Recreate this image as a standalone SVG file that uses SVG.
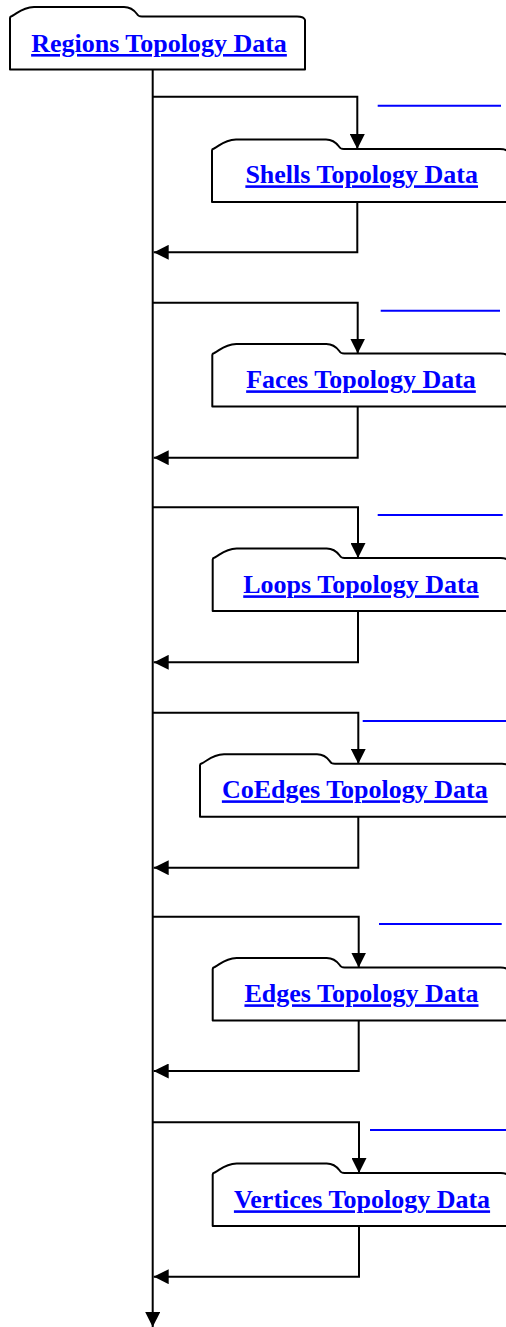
<svg xmlns="http://www.w3.org/2000/svg" width="506" height="1327" viewBox="0 0 506 1327">
<style>
.node path{fill:#fff;stroke:#000;stroke-width:2;stroke-linejoin:round}
.node text{font-family:"Liberation Serif","Times New Roman",serif;font-weight:bold;font-size:26px;fill:#0000ff;text-decoration:underline;text-anchor:middle}
.conn path{fill:none;stroke:#000;stroke-width:2}
.link line{stroke:#0000ff;stroke-width:2}
</style>
<defs>
<marker id="arr" markerUnits="userSpaceOnUse" markerWidth="15" markerHeight="15" refX="15" refY="7.5" orient="auto">
<path d="M0,0 L15,7.5 L0,15 z" fill="#000"/>
</marker>
</defs>
<rect width="506" height="1327" fill="#fff"/>
<g id="connectors" class="conn">
<path d="M152.7,69.5 V1327" marker-end="url(#arr)"/>
<path d="M152.7,96.7 H357.3 V149" marker-end="url(#arr)"/>
<path d="M357.3,202 V252.3 H153.7" marker-end="url(#arr)"/>
<path d="M152.7,302.7 H357.7 V353.5" marker-end="url(#arr)"/>
<path d="M357.7,406.5 V457.7 H153.7" marker-end="url(#arr)"/>
<path d="M152.7,507.3 H358 V558" marker-end="url(#arr)"/>
<path d="M358,611 V662.3 H153.7" marker-end="url(#arr)"/>
<path d="M152.7,712.7 H358.3 V763.8" marker-end="url(#arr)"/>
<path d="M358.3,816.8 V867.7 H153.7" marker-end="url(#arr)"/>
<path d="M152.7,916.7 H358.7 V967.5" marker-end="url(#arr)"/>
<path d="M358.7,1020.5 V1071 H153.7" marker-end="url(#arr)"/>
<path d="M152.7,1122.3 H359 V1173" marker-end="url(#arr)"/>
<path d="M359,1226 V1276.7 H153.7" marker-end="url(#arr)"/>
</g>
<g id="links" class="link">
<line x1="377.7" y1="105.7" x2="501" y2="105.7"/>
<line x1="380.7" y1="310.7" x2="500" y2="310.7"/>
<line x1="377.7" y1="515" x2="502.7" y2="515"/>
<line x1="362.7" y1="721" x2="506" y2="721"/>
<line x1="379" y1="924" x2="501.7" y2="924"/>
<line x1="370" y1="1130" x2="506" y2="1130"/>
</g>
<g id="regions" class="node" transform="translate(10,7)">
<path d="M0,62.5 V11 Q0,9.5 2,9 C8,6 12,0.5 24,0 L114,0 C120,0 124,3 127,7 Q128,9.5 132,9.5 H287 Q294,9.5 295,13 V62.5 Z"/>
<text x="149" y="45">Regions Topology Data</text>
</g>
<g id="shells" class="node" transform="translate(212,139.5)">
<path d="M0,62.5 V11 Q0,9.5 2,9 C8,6 12,0.5 24,0 L114,0 C120,0 124,3 127,7 Q128,9.5 132,9.5 H288 Q295,9.5 296,13 V62.5 Z"/>
<text x="149.7" y="43.8">Shells Topology Data</text>
</g>
<g id="faces" class="node" transform="translate(212.3,344)">
<path d="M0,62.5 V11 Q0,9.5 2,9 C8,6 12,0.5 24,0 L114,0 C120,0 124,3 127,7 Q128,9.5 132,9.5 H288 Q295,9.5 296,13 V62.5 Z"/>
<text x="148.7" y="44.3">Faces Topology Data</text>
</g>
<g id="loops" class="node" transform="translate(212.7,548.5)">
<path d="M0,62.5 V11 Q0,9.5 2,9 C8,6 12,0.5 24,0 L114,0 C120,0 124,3 127,7 Q128,9.5 132,9.5 H288 Q295,9.5 296,13 V62.5 Z"/>
<text x="148.3" y="44.8">Loops Topology Data</text>
</g>
<g id="coedges" class="node" transform="translate(200,754.3)">
<path d="M0,62.5 V11 Q0,9.5 2,9 C8,6 12,0.5 24,0 L117,0 C123,0 127,3 130,7 Q131,9.5 135,9.5 H302 Q309,9.5 310,13 V62.5 Z"/>
<text x="154.8" y="44">CoEdges Topology Data</text>
</g>
<g id="edges" class="node" transform="translate(212.7,958)">
<path d="M0,62.5 V11 Q0,9.5 2,9 C8,6 12,0.5 24,0 L114,0 C120,0 124,3 127,7 Q128,9.5 132,9.5 H288 Q295,9.5 296,13 V62.5 Z"/>
<text x="148.8" y="44.3">Edges Topology Data</text>
</g>
<g id="vertices" class="node" transform="translate(212.7,1163.5)">
<path d="M0,62.5 V11 Q0,9.5 2,9 C8,6 12,0.5 24,0 L114,0 C120,0 124,3 127,7 Q128,9.5 132,9.5 H288 Q295,9.5 296,13 V62.5 Z"/>
<text x="149.3" y="44.8">Vertices Topology Data</text>
</g>
</svg>
